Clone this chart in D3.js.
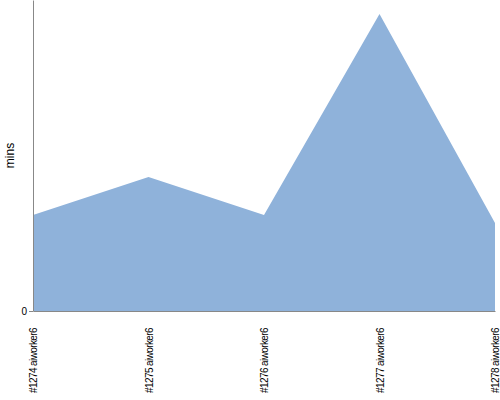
<!DOCTYPE html>
<html>
<head>
<meta charset="utf-8">
<script src="https://cdn.jsdelivr.net/npm/d3@7"></script>
<style>
  body { margin: 0; background: #fff; }
  text { font-family: "Liberation Sans", Arial, sans-serif; }
</style>
</head>
<body>
<svg id="chart" width="500" height="400"></svg>
<script>
// builds, duration in minutes
const builds = ["#1274 aiworker6", "#1275 aiworker6", "#1276 aiworker6", "#1277 aiworker6", "#1278 aiworker6"];
const mins = [3.09, 4.31, 3.09, 9.55, 2.83];
const yTicks = [0];

function getConfig() {
    let margin = {top: 0, right: 5, bottom: 89, left: 33};
    let width = 500;
    let height = 400;
    let svg = d3.select("#chart");
    return {margin, width, height, svg};
}

function drawChart() {
    const config = getConfig();
    const m = config.margin;
    const innerH = config.height - m.top - m.bottom;

    let x = d3.scalePoint()
        .domain(builds)
        .range([m.left, config.width - m.right]);
    let y = d3.scaleLinear()
        .domain([0, 10])
        .range([m.top + innerH, m.top]);

    const area = d3.area()
        .x((d, i) => x(builds[i]))
        .y0(y(0))
        .y1(d => y(d));

    config.svg.append("path")
        .datum(mins)
        .attr("d", area)
        .attr("fill", "#8fb2da");

    // y axis
    const yAxis = config.svg.append("g")
        .attr("transform", `translate(${m.left},0)`)
        .call(d3.axisLeft(y).tickValues(yTicks).tickSize(4).tickPadding(2).tickSizeOuter(0));
    yAxis.select(".domain").attr("stroke", "#888");
    yAxis.selectAll(".tick line").attr("stroke", "#888");
    yAxis.selectAll(".tick text").attr("font-size", 10).attr("fill", "#000");

    // x axis
    const xAxis = config.svg.append("g")
        .attr("transform", `translate(0,${y(0)})`)
        .call(d3.axisBottom(x).tickSize(0).tickSizeOuter(0));
    xAxis.select(".domain").attr("stroke", "#888");
    xAxis.selectAll(".tick text")
        .attr("font-size", 10)
        .attr("fill", "#000")
        .attr("letter-spacing", "-0.6px")
        .attr("text-anchor", "end")
        .attr("transform", "rotate(-90)")
        .attr("x", -17)
        .attr("y", 0)
        .attr("dy", "0.35em");

    config.svg.append("text")
        .attr("transform", `translate(14,${y(0) / 2}) rotate(-90)`)
        .attr("text-anchor", "middle")
        .attr("font-size", 12)
        .text("mins");
}

drawChart();
</script>
</body>
</html>
